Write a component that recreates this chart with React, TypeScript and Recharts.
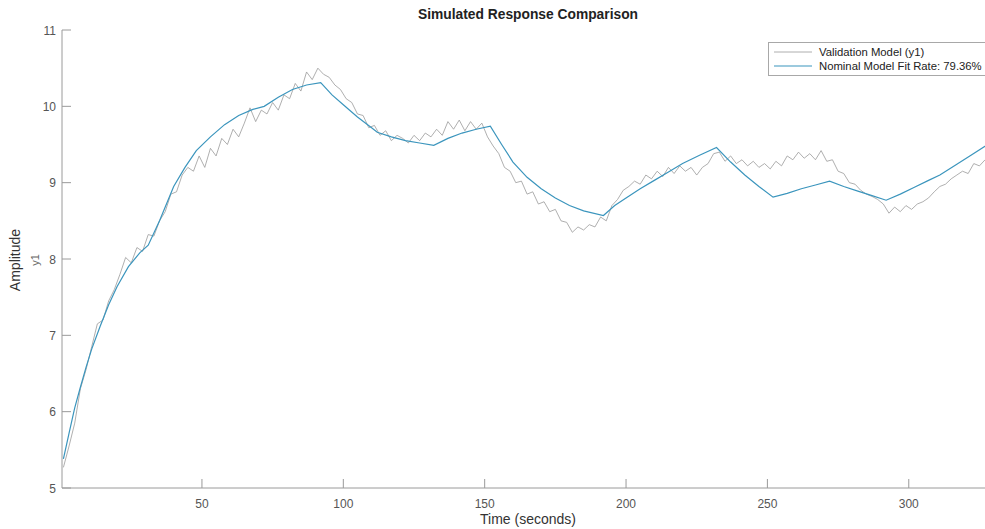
import React from 'react';
import { LineChart, Line, XAxis, YAxis, Legend } from 'recharts';

// measured output y1, sampled every 2 s starting at t = 1 s
const SAMPLE_START = 1;
const SAMPLE_STEP = 2;
const validationY1 = [
  5.27, 5.55, 5.85, 6.3, 6.55, 6.85, 7.15, 7.2, 7.45, 7.6,
  7.8, 8.02, 7.95, 8.15, 8.1, 8.32, 8.3, 8.5, 8.62, 8.85,
  8.88, 9.1, 9.2, 9.15, 9.35, 9.2, 9.45, 9.35, 9.58, 9.5,
  9.7, 9.6, 9.78, 9.98, 9.8, 9.95, 9.9, 10.05, 9.95, 10.15,
  10.1, 10.3, 10.2, 10.45, 10.35, 10.5, 10.42, 10.38, 10.28, 10.22,
  10.1, 10.05, 9.9, 9.88, 9.72, 9.75, 9.62, 9.68, 9.55, 9.62,
  9.58, 9.52, 9.62, 9.55, 9.65, 9.6, 9.7, 9.62, 9.8, 9.7,
  9.82, 9.68, 9.8, 9.7, 9.78, 9.6, 9.48, 9.38, 9.2, 9.15,
  9.0, 9.02, 8.85, 8.88, 8.72, 8.75, 8.62, 8.65, 8.5, 8.48,
  8.35, 8.42, 8.38, 8.45, 8.42, 8.55, 8.5, 8.7, 8.78, 8.9,
  8.95, 9.02, 8.98, 9.1, 9.05, 9.15, 9.08, 9.2, 9.12, 9.22,
  9.15, 9.2, 9.1, 9.2, 9.25, 9.38, 9.4, 9.28, 9.35, 9.25,
  9.3, 9.22, 9.28, 9.2, 9.25, 9.18, 9.28, 9.22, 9.35, 9.3,
  9.4, 9.32, 9.38, 9.3, 9.42, 9.28, 9.3, 9.15, 9.12, 9.0,
  8.98, 8.9, 8.85, 8.82, 8.78, 8.72, 8.6, 8.68, 8.62, 8.7,
  8.65, 8.72, 8.75, 8.8, 8.88, 8.95, 8.98, 9.05, 9.1, 9.15,
  9.12, 9.25, 9.22, 9.3,
];

// simulated response of the nominal model
const nominalTime = [
  1, 3, 5, 7, 9, 11, 14, 17, 20, 24, 28, 31, 35, 40, 44, 48, 53, 58, 63, 68,
  72, 77, 82, 87, 92, 96, 100, 105, 110, 112, 117, 122, 127, 132, 137, 142, 147, 152,
  156, 160, 165, 170, 175, 180, 185, 192, 196, 200, 205, 210, 215, 220, 226, 232,
  237, 242, 247, 252, 257, 262, 267, 272, 277, 282, 287, 292, 297, 302, 307, 311,
  317, 322, 330,
];
const nominalY1 = [
  5.38, 5.72, 6.05, 6.32, 6.58, 6.82, 7.12, 7.4, 7.64, 7.9, 8.08, 8.18, 8.5, 8.95, 9.2, 9.42, 9.6, 9.76, 9.88, 9.96,
  10.0, 10.12, 10.22, 10.28, 10.31, 10.15, 10.02, 9.86, 9.72, 9.66, 9.6, 9.55, 9.52, 9.49, 9.58, 9.65, 9.7, 9.74,
  9.5, 9.27, 9.07, 8.92, 8.8, 8.7, 8.63, 8.57, 8.7, 8.8, 8.92, 9.03, 9.14, 9.25, 9.36, 9.46,
  9.27, 9.1, 8.95, 8.81, 8.86, 8.92, 8.97, 9.02, 8.95, 8.89, 8.83, 8.77, 8.85, 8.94, 9.03, 9.1,
  9.24, 9.36, 9.55,
];

const xTicks = [50, 100, 150, 200, 250, 300];
const yTicks = [5, 6, 7, 8, 9, 10, 11];

const validationData = validationY1.map((y, i) => ({ t: SAMPLE_START + i * SAMPLE_STEP, y }));
const nominalData = nominalTime.map((t, i) => ({ t, y: nominalY1[i] }));

const AXIS = '#9a9a9a';
const TEXT = '#555';
const GRAY = '#9b9b9b';
const BLUE = '#3b95bd';
const FONT = '"Liberation Sans", Arial, Helvetica, sans-serif';
const TICK_LEN = 9;

const BottomTick = (props: any) => {
  const { x, y, payload } = props;
  return (
    <g>
      <line x1={x} x2={x} y1={y} y2={y - TICK_LEN} stroke={AXIS} />
      <text x={x} y={y + 20} textAnchor="middle" fill={TEXT} fontSize={12} fontFamily={FONT}>
        {payload.value}
      </text>
    </g>
  );
};

const TopTick = (props: any) => {
  const { x, y } = props;
  return <line x1={x} x2={x} y1={y} y2={y + TICK_LEN} stroke={AXIS} />;
};

const LeftTick = (props: any) => {
  const { x, y, payload } = props;
  return (
    <g>
      <line x1={x} x2={x + TICK_LEN} y1={y} y2={y} stroke={AXIS} />
      <text x={x - 6} y={y + 4.5} textAnchor="end" fill={TEXT} fontSize={12} fontFamily={FONT}>
        {payload.value}
      </text>
    </g>
  );
};

const legendItems = [
  { label: 'Validation Model (y1)', color: GRAY, width: 0.8 },
  { label: 'Nominal Model Fit Rate: 79.36%', color: BLUE, width: 1.2 },
];

const LegendBox = () => (
  <div
    style={{
      border: '1px solid #a8a8a8',
      background: '#fff',
      padding: '2px 4px 2px 3px',
      fontFamily: FONT,
      fontSize: 11.3,
      color: '#222',
      lineHeight: '14px',
    }}
  >
    {legendItems.map((it) => (
      <div key={it.label} style={{ display: 'flex', alignItems: 'center', whiteSpace: 'nowrap' }}>
        <svg width={42} height={14} style={{ marginRight: 5 }}>
          <line x1={2} x2={40} y1={7} y2={7} stroke={it.color} strokeWidth={it.width} />
        </svg>
        <span>{it.label}</span>
      </div>
    ))}
  </div>
);

export default function App() {
  return (
    <div
      style={{
        position: 'relative',
        width: 985,
        height: 529,
        overflow: 'hidden',
        background: '#fff',
        fontFamily: FONT,
      }}
    >
      <style>{'body{margin:0}'}</style>
      <LineChart width={995} height={529} margin={{ top: 30, right: 0, bottom: 0, left: 0 }}>
        <XAxis
          xAxisId="b"
          dataKey="t"
          type="number"
          domain={[0.5, 330.5]}
          ticks={xTicks}
          allowDataOverflow
          height={41}
          tickSize={0}
          tickMargin={0}
          tickLine={false}
          axisLine={{ stroke: AXIS }}
          tick={<BottomTick />}
        />
        <XAxis
          xAxisId="top"
          orientation="top"
          dataKey="t"
          type="number"
          domain={[0.5, 330.5]}
          ticks={xTicks}
          allowDataOverflow
          height={0}
          tickSize={0}
          tickMargin={0}
          tickLine={false}
          axisLine={{ stroke: AXIS }}
          tick={<TopTick />}
        />
        <YAxis
          dataKey="y"
          type="number"
          domain={[5, 11]}
          ticks={yTicks}
          allowDataOverflow
          width={62}
          tickSize={0}
          tickMargin={0}
          tickLine={false}
          axisLine={{ stroke: AXIS }}
          tick={<LeftTick />}
        />
        <Legend
          layout="vertical"
          align="center"
          verticalAlign="middle"
          wrapperStyle={{ left: 768, top: 42, width: 'auto' }}
          content={<LegendBox />}
        />
        <Line
          xAxisId="b"
          data={validationData}
          dataKey="y"
          type="linear"
          stroke={GRAY}
          strokeWidth={0.8}
          dot={false}
          isAnimationActive={false}
        />
        <Line
          xAxisId="b"
          data={nominalData}
          dataKey="y"
          type="linear"
          stroke={BLUE}
          strokeWidth={1.2}
          dot={false}
          isAnimationActive={false}
        />
      </LineChart>
      <div
        style={{
          position: 'absolute',
          left: 0,
          width: 1056,
          top: 7,
          textAlign: 'center',
          fontWeight: 'bold',
          fontSize: 13.8,
          color: '#222',
        }}
      >
        Simulated Response Comparison
      </div>
      <div
        style={{
          position: 'absolute',
          left: 0,
          width: 1056,
          top: 511,
          textAlign: 'center',
          fontSize: 14,
          color: '#333',
        }}
      >
        Time (seconds)
      </div>
      <div
        style={{
          position: 'absolute',
          left: 15,
          top: 260,
          transform: 'translate(-50%, -50%) rotate(-90deg)',
          fontSize: 14,
          color: '#333',
          whiteSpace: 'nowrap',
        }}
      >
        Amplitude
      </div>
      <div
        style={{
          position: 'absolute',
          left: 35,
          top: 260,
          transform: 'translate(-50%, -50%) rotate(-90deg)',
          fontSize: 11,
          color: '#666',
          whiteSpace: 'nowrap',
        }}
      >
        y1
      </div>
    </div>
  );
}
